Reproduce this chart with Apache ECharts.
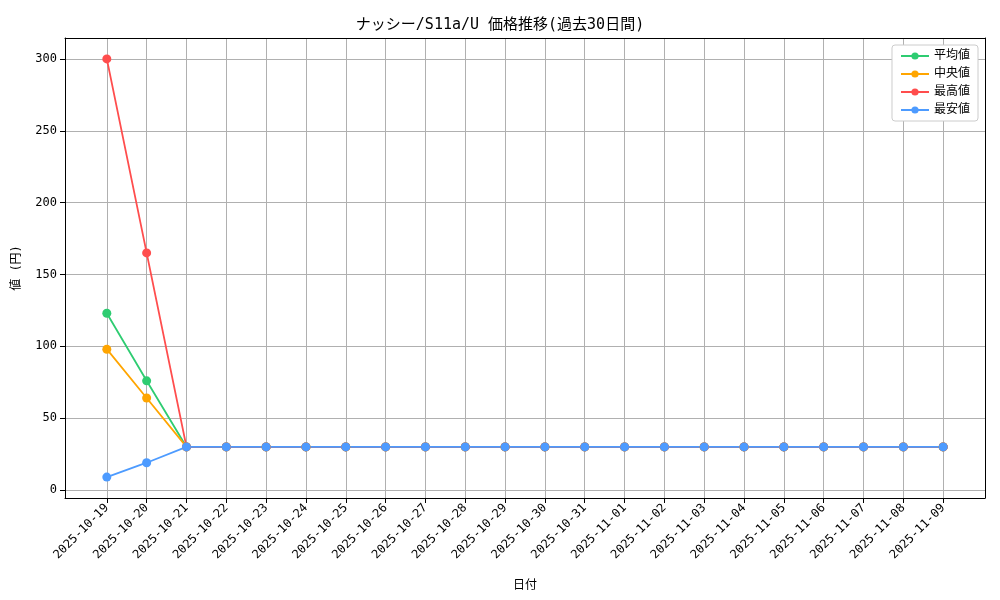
<!DOCTYPE html>
<html>
<head>
<meta charset="utf-8">
<script src="https://cdn.jsdelivr.net/npm/echarts@6/dist/echarts.min.js"></script>
<style>html,body{margin:0;padding:0;background:#fff}#main{width:1000px;height:600px}</style>
</head>
<body>
<div id="main"></div>
<script>
const dates = ['2025-10-19','2025-10-20','2025-10-21','2025-10-22','2025-10-23','2025-10-24','2025-10-25','2025-10-26','2025-10-27','2025-10-28','2025-10-29','2025-10-30','2025-10-31','2025-11-01','2025-11-02','2025-11-03','2025-11-04','2025-11-05','2025-11-06','2025-11-07','2025-11-08','2025-11-09']
const avgValues = [123, 76, 30, 30, 30, 30, 30, 30, 30, 30, 30, 30, 30, 30, 30, 30, 30, 30, 30, 30, 30, 30]
const medianValues = [98, 64, 30, 30, 30, 30, 30, 30, 30, 30, 30, 30, 30, 30, 30, 30, 30, 30, 30, 30, 30, 30]
const maxValues = [300, 165, 30, 30, 30, 30, 30, 30, 30, 30, 30, 30, 30, 30, 30, 30, 30, 30, 30, 30, 30, 30]
const minValues = [9, 19, 30, 30, 30, 30, 30, 30, 30, 30, 30, 30, 30, 30, 30, 30, 30, 30, 30, 30, 30, 30]
const yTicks = [0, 50, 100, 150, 200, 250, 300]

const font = '"DejaVu Sans Mono", "Noto Sans CJK JP", monospace'
const idx = dates.map((d, i) => i)
const pairs = arr => arr.map((v, i) => [i, v])

function line(name, color, data) {
  return {
    name: name, type: 'line', data: pairs(data),
    symbol: 'circle', symbolSize: 9,
    lineStyle: { color: color, width: 1.8 },
    itemStyle: { color: color },
    emphasis: { disabled: true }
  }
}

const box = { show: true, onZero: false, lineStyle: { color: '#000' } }

const chart = echarts.init(document.getElementById('main'))
chart.setOption({
  animation: false,
  textStyle: { fontFamily: font },
  title: {
    text: 'ナッシー/S11a/U 価格推移(過去30日間)',
    left: 'center', top: 13,
    textStyle: { fontSize: 15, fontWeight: 'normal', color: '#000', fontFamily: font }
  },
  legend: {
    right: 22, top: 45, orient: 'vertical', itemGap: 6,
    itemWidth: 28, itemHeight: 9,
    backgroundColor: '#fff', borderColor: '#ccc', borderWidth: 1, borderRadius: 3, padding: [5, 8],
    textStyle: { fontSize: 12, color: '#000', fontFamily: font },
    data: ['平均値', '中央値', '最高値', '最安値']
  },
  grid: { left: 65, right: 15, top: 38, bottom: 102, containLabel: false },
  xAxis: [{
    type: 'value', min: -1.05, max: 22.05,
    name: '日付', nameLocation: 'middle', nameGap: 82,
    nameTextStyle: { fontSize: 12, color: '#000' },
    axisLine: box,
    axisTick: { customValues: idx, lineStyle: { color: '#000' } },
    axisLabel: { customValues: idx, rotate: 45, color: '#000', fontSize: 12, margin: 8, formatter: v => dates[Math.round(v)] },
    splitLine: { show: true, lineStyle: { color: '#b0b0b0' } }
  }, {
    type: 'value', position: 'top', min: -1.05, max: 22.05,
    axisLine: box, axisTick: { show: false }, axisLabel: { show: false }, splitLine: { show: false }
  }],
  yAxis: [{
    type: 'value', min: -5.55, max: 314.55,
    name: '値 (円)', nameLocation: 'middle', nameGap: 42,
    nameTextStyle: { fontSize: 12, color: '#000' },
    axisLine: box,
    axisTick: { show: true, customValues: yTicks, lineStyle: { color: '#000' } },
    axisLabel: { customValues: yTicks, color: '#000', fontSize: 12 },
    splitLine: { show: true, lineStyle: { color: '#b0b0b0' } }
  }, {
    type: 'value', position: 'right', min: -5.55, max: 314.55,
    axisLine: box, axisTick: { show: false }, axisLabel: { show: false }, splitLine: { show: false }
  }],
  series: [
    line('平均値', '#2ecc71', avgValues),
    line('中央値', '#ffa500', medianValues),
    line('最高値', '#ff4d4d', maxValues),
    line('最安値', '#4d9bff', minValues)
  ]
})
</script>
</body>
</html>
